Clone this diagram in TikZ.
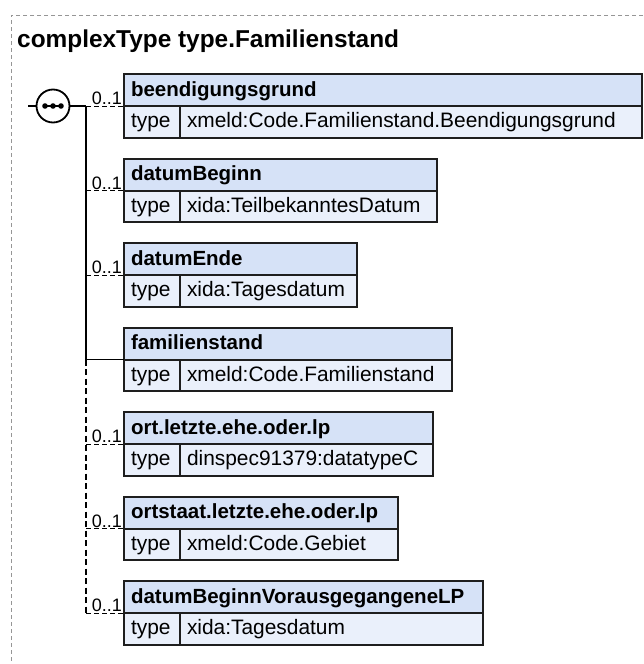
\documentclass[tikz,border=0pt]{standalone}
\usepackage{fontspec}
\setmainfont{Liberation Sans}
\usepackage{tikz}
\usetikzlibrary{calc}

\definecolor{hdfill}{RGB}{214,226,247}
\definecolor{rowfill}{RGB}{234,240,251}
\definecolor{boxline}{RGB}{30,30,30}
\definecolor{frameline}{RGB}{150,150,150}

\begin{document}
\begin{tikzpicture}[x=1pt,y=-1pt,
        hd/.style={draw=boxline,line width=2pt,outer sep=0pt,fill=hdfill,anchor=north west,minimum height=32pt,inner xsep=7pt,inner ysep=0pt,text height=16pt,text depth=4pt,align=left,text width=#1,font=\bfseries\fontsize{20.5}{24}\selectfont},
        tyl/.style={draw=boxline,line width=2pt,outer sep=0pt,fill=rowfill,anchor=north west,minimum height=31.5pt,inner xsep=7pt,inner ysep=0pt,text height=16pt,text depth=4pt,align=left,text width=42pt,font=\fontsize{20.9}{24}\selectfont},
        tyv/.style={tyl,text width=#1},
        card/.style={anchor=south east,inner xsep=2pt,inner ysep=1pt,font=\fontsize{18}{20}\selectfont},
        wire/.style={line width=1.5pt},
        opt/.style={line width=1pt,dash pattern=on 5pt off 3pt},
        req/.style={line width=1pt}]
        \useasboundingbox (0,0) rectangle (643,664);
        \draw[frameline,line width=1pt,dash pattern=on 4pt off 3pt](643, 15) -- (11, 15) -- (11, 664);
        \node[anchor=base west,inner sep=0pt,font=\bfseries\fontsize{24.4}{28}\selectfont] (ttl) at (17, 47) {complexType type.Familienstand};
        % sequence
        \coordinate (in) at (28, 106);
        \coordinate (bus) at (86, 106);
        \node[draw,line width=1.8pt,fill=white,circle,minimum size=33pt,inner sep=0pt] (seq) at (53, 106) {};
        \draw[line width=1.2pt]([xshift=-8pt]seq.center) -- ([xshift=8pt]seq.center);
        \foreach \dx in {-8,0,8}
            \fill([xshift=\dx pt]seq.center) circle[radius=2.8];
        \draw[wire](in) -- (seq);
        \draw[wire](seq) -- (bus);
        % elements
        \node[hd=504pt] (beend) at (124, 74) {beendigungsgrund};
        \node[tyl] (beendT) at (beend.south west) {type};
        \node[tyv=448pt] (beendV) at (beendT.north east) {xmeld:Code.Familienstand.Beendigungsgrund};
        \node[hd=299pt] (dbeg) at (124, 158.5) {datumBeginn};
        \node[tyl] (dbegT) at (dbeg.south west) {type};
        \node[tyv=243pt] (dbegV) at (dbegT.north east) {xida:TeilbekanntesDatum};
        \node[hd=219pt] (dend) at (124, 243) {datumEnde};
        \node[tyl] (dendT) at (dend.south west) {type};
        \node[tyv=163pt] (dendV) at (dendT.north east) {xida:Tagesdatum};
        \node[hd=314pt] (fam) at (124, 327.5) {familienstand};
        \node[tyl] (famT) at (fam.south west) {type};
        \node[tyv=258pt] (famV) at (famT.north east) {xmeld:Code.Familienstand};
        \node[hd=295pt] (ortlp) at (124, 412) {ort.letzte.ehe.oder.lp};
        \node[tyl] (ortlpT) at (ortlp.south west) {type};
        \node[tyv=239pt] (ortlpV) at (ortlpT.north east) {dinspec91379:datatypeC};
        \node[hd=260pt] (staatlp) at (124, 496.5) {ortstaat.letzte.ehe.oder.lp};
        \node[tyl] (staatlpT) at (staatlp.south west) {type};
        \node[tyv=204pt] (staatlpV) at (staatlpT.north east) {xmeld:Code.Gebiet};
        \node[hd=345pt] (dbvlp) at (124, 581) {datumBeginnVorausgegangeneLP};
        \node[tyl] (dbvlpT) at (dbvlp.south west) {type};
        \node[tyv=289pt] (dbvlpV) at (dbvlpT.north east) {xida:Tagesdatum};
        % bus and connectors
        \draw[wire](bus) -- (bus |- fam.south west);
        \draw[wire,dash pattern=on 6pt off 3.5pt](bus |- fam.south west) -- (bus |- dbvlp.south west);
        \draw[req](bus |- fam.south west) -- (fam.south west);
        \foreach \el in {beend,dbeg,dend,ortlp,staatlp,dbvlp}{
            \draw[opt](bus |- \el.south west) -- (\el.south west);
            \node[card] at (\el.south west) {0..1};
        }
    \end{tikzpicture}
\end{document}
